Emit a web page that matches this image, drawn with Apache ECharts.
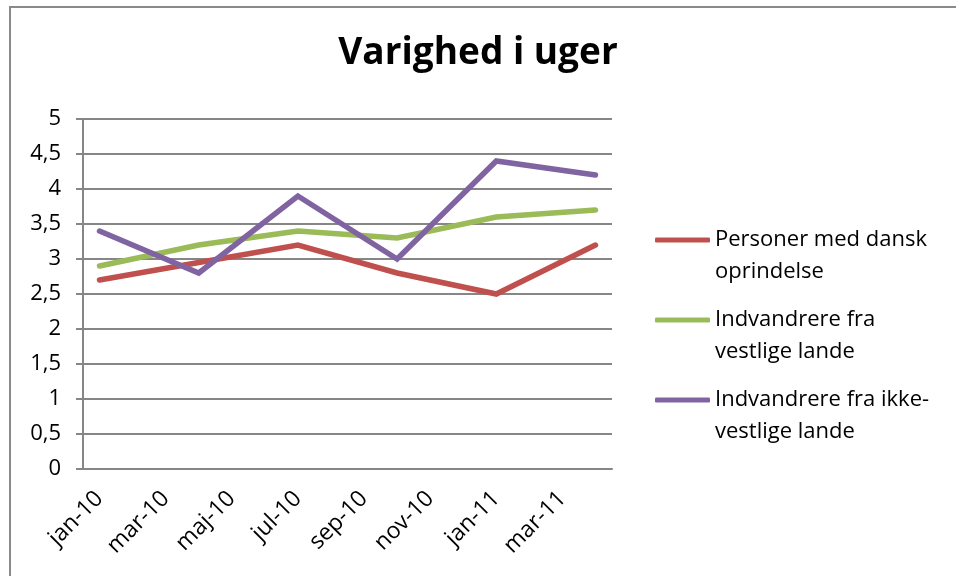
<!DOCTYPE html>
<html>
<head>
<meta charset="utf-8">
<script src="https://cdn.jsdelivr.net/npm/echarts@6/dist/echarts.min.js"></script>
<style>
  html, body { margin: 0; padding: 0; background: #fff; }
  #chart { width: 956px; height: 576px; }
</style>
</head>
<body>
<div id="chart"></div>
<script>
// months on the date axis (jan-10 .. apr-11), data is quarterly
const months = ['jan-10', 'feb-10', 'mar-10', 'apr-10', 'maj-10', 'jun-10', 'jul-10', 'aug-10',
  'sep-10', 'okt-10', 'nov-10', 'dec-10', 'jan-11', 'feb-11', 'mar-11', 'apr-11']
const quarters = ['jan-10', 'apr-10', 'jul-10', 'okt-10', 'jan-11', 'apr-11']
const dansk = [2.7, 2.95, 3.2, 2.8, 2.5, 3.2]
const vestlige = [2.9, 3.2, 3.4, 3.3, 3.6, 3.7]
const ikkeVestlige = [3.4, 2.8, 3.9, 3.0, 4.4, 4.2]
const seriesNames = ['Personer med dansk\noprindelse', 'Indvandrere fra\nvestlige lande', 'Indvandrere fra ikke-\nvestlige lande']
const colors = ['#C0504D', '#9BBB59', '#8064A2']

const font = '"Open Sans", Lato, sans-serif'

function toMonths (values) {
  return months.map(m => {
    let i = quarters.indexOf(m)
    return i >= 0 ? values[i] : null
  })
}

let chart = echarts.init(document.getElementById('chart'))
chart.setOption({
  animation: false,
  color: colors,
  title: {
    text: 'Varighed i uger',
    left: 'center',
    top: 30,
    textStyle: { fontFamily: font, fontWeight: 'bold', fontSize: 37, color: '#000' }
  },
  graphic: [{
    type: 'rect',
    shape: { x: 10, y: 7, width: 960, height: 600 },
    style: { fill: 'none', stroke: '#8a8a8a', lineWidth: 2 },
    silent: true
  }],
  legend: {
    orient: 'vertical',
    left: 655,
    top: 192,
    padding: 0,
    itemGap: -16,
    itemWidth: 55,
    itemHeight: 5,
    itemStyle: { borderWidth: 0 },
    icon: 'roundRect',
    // leading blank line keeps the swatch level with the first text line
    formatter: name => '\n' + name,
    textStyle: { fontFamily: font, fontSize: 22, color: '#000', lineHeight: 32 },
    data: seriesNames
  },
  grid: { left: 83, right: 344, top: 119, bottom: 107 },
  xAxis: {
    type: 'category',
    data: months,
    boundaryGap: true,
    axisLine: { lineStyle: { color: '#868686', width: 2 } },
    axisTick: { interval: 1, length: 7, lineStyle: { color: '#868686', width: 2 } },
    axisLabel: {
      interval: 1, rotate: 45, margin: 26,
      fontFamily: font, fontSize: 23, color: '#000'
    }
  },
  yAxis: {
    type: 'value',
    min: 0,
    max: 5,
    interval: 0.5,
    axisLine: { show: true, lineStyle: { color: '#868686', width: 2 } },
    axisTick: { show: true, length: 7, lineStyle: { color: '#868686', width: 2 } },
    splitLine: { lineStyle: { color: '#868686', width: 2 } },
    axisLabel: {
      margin: 22,
      fontFamily: font, fontSize: 22, color: '#000',
      formatter: v => String(v).replace('.', ',')
    }
  },
  series: [dansk, vestlige, ikkeVestlige].map((vals, i) => ({
    name: seriesNames[i],
    type: 'line',
    data: toMonths(vals),
    connectNulls: true,
    symbol: 'none',
    lineStyle: { width: 5.5, cap: 'round', join: 'miter' }
  }))
})
</script>
</body>
</html>
